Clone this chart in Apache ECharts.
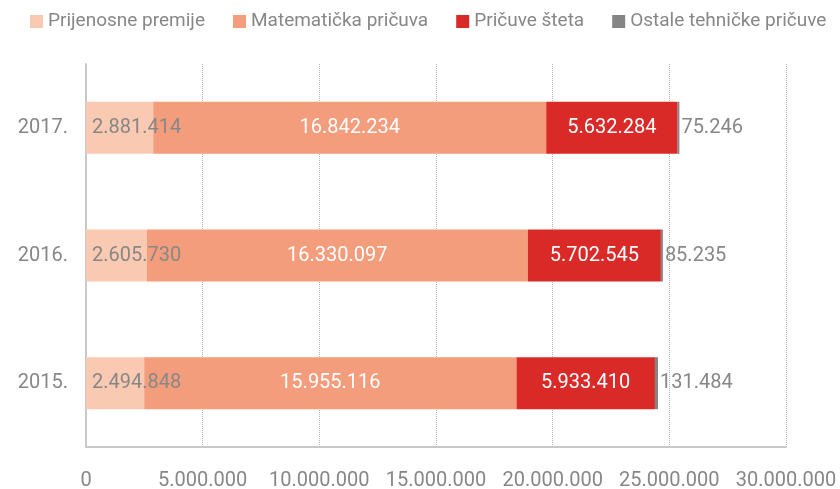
<!DOCTYPE html>
<html>
<head>
<meta charset="utf-8">
<script src="https://cdn.jsdelivr.net/npm/echarts@6/dist/echarts.min.js"></script>
<style>
  html, body { margin: 0; padding: 0; background: #fff; }
  #chart { width: 840px; height: 489px; }
</style>
</head>
<body>
<div id="chart"></div>
<script>
// godine (odozdo prema gore)
var years = ['2015.', '2016.', '2017.']
var prijenosnePremije = [2494848, 2605730, 2881414]
var matematickaPricuva = [15955116, 16330097, 16842234]
var pricuveSteta = [5933410, 5702545, 5632284]
var ostaleTehnicke = [131484, 85235, 75246]
var xTicks = [0, 5000000, 10000000, 15000000, 20000000, 25000000, 30000000]

var FONT = 'Roboto'
var GRAY = '#878787'

function fmt(v) {
  return String(v).replace(/\B(?=(\d{3})+(?!\d))/g, '.')
}

var chart = echarts.init(document.getElementById('chart'))

function seriesItem(name, data, color, label) {
  return {
    name: name,
    type: 'bar',
    stack: 'total',
    barWidth: 52,
    data: data,
    itemStyle: { color: color },
    label: Object.assign({
      show: true,
      fontFamily: FONT,
      fontSize: 20,
      formatter: function (p) { return fmt(p.value) }
    }, label)
  }
}

chart.setOption({
  animation: false,
  textStyle: { fontFamily: FONT },
  legend: {
    top: 12,
    left: 30,
    width: 810,
    padding: 0,
    itemWidth: 13,
    itemHeight: 13,
    itemGap: 28,
    icon: 'rect',
    textStyle: { color: GRAY, fontSize: 19, fontFamily: FONT },
    data: ['Prijenosne premije', 'Matematička pričuva', 'Pričuve šteta', 'Ostale tehničke pričuve']
  },
  grid: {
    left: 86,
    right: 54,
    top: 64,
    bottom: 42,
    outerBoundsMode: 'none'
  },
  xAxis: {
    type: 'value',
    min: xTicks[0],
    max: xTicks[xTicks.length - 1],
    interval: 5000000,
    axisLine: { show: true, lineStyle: { color: '#c8c8c8', width: 2 } },
    axisTick: { show: false },
    splitLine: { show: true, lineStyle: { color: '#b5b5b5', type: 'dotted', width: 1 } },
    axisLabel: {
      color: GRAY,
      fontSize: 20,
      fontFamily: FONT,
      margin: 24,
      formatter: function (v) { return fmt(v) }
    }
  },
  yAxis: {
    type: 'category',
    data: years,
    axisLine: { show: true, lineStyle: { color: '#c8c8c8', width: 2 } },
    axisTick: { show: false },
    axisLabel: { color: GRAY, fontSize: 20, fontFamily: FONT, margin: 18 }
  },
  series: [
    seriesItem('Prijenosne premije', prijenosnePremije, '#f9c9b2', { position: 'insideLeft', color: GRAY, distance: 6 }),
    seriesItem('Matematička pričuva', matematickaPricuva, '#f49d7c', { position: 'inside', color: '#fff' }),
    seriesItem('Pričuve šteta', pricuveSteta, '#da2a28', { position: 'inside', color: '#fff' }),
    seriesItem('Ostale tehničke pričuve', ostaleTehnicke, '#858585', { position: 'right', color: GRAY, distance: 2 })
  ]
})
</script>
</body>
</html>
